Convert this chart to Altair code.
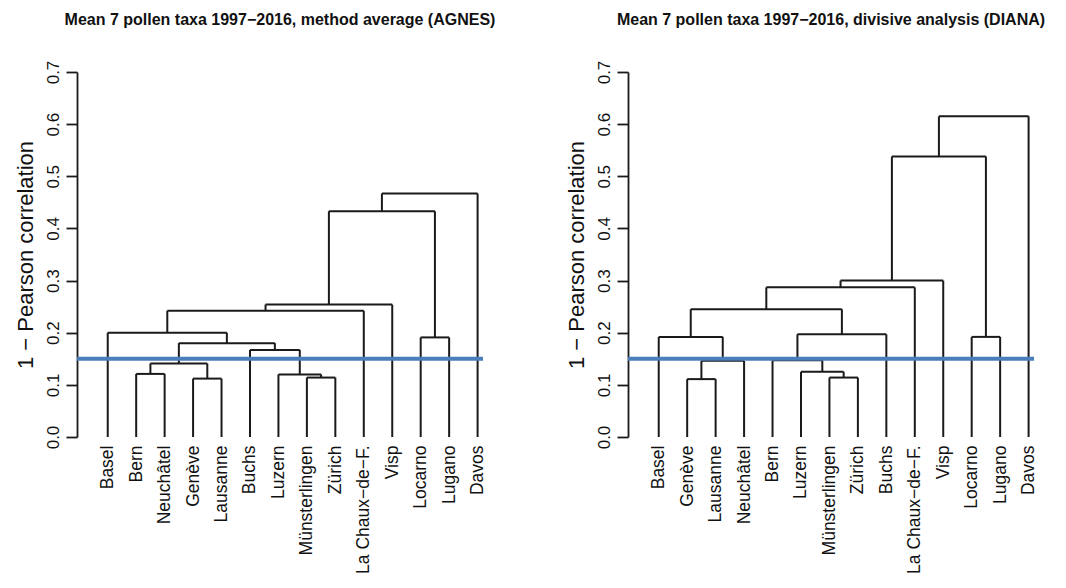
import altair as alt
import pandas as pd

# Leaf order as drawn in each dendrogram
agnes_leaves = ["Basel", "Bern", "Neuchâtel", "Genève", "Lausanne", "Buchs", "Luzern",
                "Münsterlingen", "Zürich", "La Chaux−de−F.", "Visp", "Locarno", "Lugano", "Davos"]
diana_leaves = ["Basel", "Genève", "Lausanne", "Neuchâtel", "Bern", "Luzern", "Münsterlingen",
                "Zürich", "Buchs", "La Chaux−de−F.", "Visp", "Locarno", "Lugano", "Davos"]

# Merge steps (hclust style): negative = leaf position (1-based), positive = earlier merge step
agnes_merge = [(-4, -5), (-8, -9), (-2, -3), (-7, 2), (3, 1), (-6, 4), (5, 6),
               (-1, 7), (-12, -13), (8, -10), (10, -11), (11, 9), (12, -14)]
agnes_height = [0.112, 0.114, 0.121, 0.120, 0.141, 0.167, 0.180,
                0.200, 0.191, 0.242, 0.254, 0.433, 0.467]

diana_merge = [(-2, -3), (-7, -8), (-6, 2), (1, -4), (-5, 3), (-1, 4), (-12, -13),
               (5, -9), (6, 8), (9, -10), (10, -11), (11, 7), (12, -14)]
diana_height = [0.111, 0.114, 0.125, 0.146, 0.147, 0.192, 0.192,
                0.197, 0.245, 0.287, 0.300, 0.538, 0.615]

cut_level = 0.15

FONT = "Liberation Sans"
LINE = "#1a1a1a"
BLUE = "#4a7ebb"
W, H = 406, 365
X_DOMAIN = [-0.08, 14.19]


def segments(merge, height):
    """Turn a merge table into the vertical/horizontal segments of a dendrogram."""
    pos, top, rows = {}, {}, []

    def child(c):
        if c < 0:
            return float(-c), 0.0
        return pos[c], top[c]

    for i, ((a, b), h) in enumerate(zip(merge, height), start=1):
        xa, ya = child(a)
        xb, yb = child(b)
        rows.append(dict(x=xa, x2=xa, y=ya, y2=h))
        rows.append(dict(x=xb, x2=xb, y=yb, y2=h))
        rows.append(dict(x=xa, x2=xb, y=h, y2=h))
        pos[i], top[i] = (xa + xb) / 2, h
    return pd.DataFrame(rows)


def panel(leaves, merge, height, title):
    df = segments(merge, height)
    names = ",".join("'" + n + "'" for n in leaves)
    xs = alt.Scale(domain=X_DOMAIN, nice=False, zero=False)
    ys = alt.Scale(domain=[0, 0.7], nice=False, zero=False)
    x_axis = alt.Axis(values=list(range(1, len(leaves) + 1)),
                      labelExpr="[" + names + "][datum.value - 1]",
                      labelAngle=270, labelAlign="right", labelBaseline="middle",
                      labelPadding=8, labelFontSize=17.5, labelFont=FONT, labelColor="#111",
                      labelOverlap=False, labelFlush=False, labelBound=False,
                      ticks=False, domain=False, grid=False, title=None)
    y_axis = alt.Axis(values=[0, 0.1, 0.2, 0.3, 0.4, 0.5, 0.6, 0.7], format=".1f",
                      labelAngle=270, labelAlign="center", labelBaseline="bottom",
                      labelPadding=4, labelFontSize=17, labelFont=FONT, labelColor="#111",
                      tickSize=11, tickColor=LINE, domainColor=LINE, tickWidth=1.8, domainWidth=1.8,
                      grid=False, title="1 − Pearson correlation", titleFont=FONT,
                      titleFontSize=22, titleFontWeight="normal", titleColor="#111",
                      titlePadding=7)
    tree = alt.Chart(df).mark_rule(color=LINE, strokeWidth=2).encode(
        x=alt.X("x:Q", scale=xs, axis=x_axis),
        x2="x2:Q",
        y=alt.Y("y:Q", scale=ys, axis=y_axis),
        y2="y2:Q",
    )
    cut = alt.Chart(pd.DataFrame({"h": [cut_level]})).mark_rule(
        color=BLUE, strokeWidth=4).encode(y=alt.Y("h:Q", scale=ys))
    return alt.layer(tree, cut).properties(
        width=W, height=H,
        title=alt.TitleParams(title, font=FONT, fontSize=16, fontWeight="bold",
                              color="#111", anchor="middle", offset=32),
    )


left = panel(agnes_leaves, agnes_merge, agnes_height,
             "Mean 7 pollen taxa 1997−2016, method average (AGNES)")
right = panel(diana_leaves, diana_merge, diana_height,
              "Mean 7 pollen taxa 1997−2016, divisive analysis (DIANA)")

chart = alt.hconcat(left, right, spacing=68).properties(
    padding={"left": 13, "top": 12, "right": 5, "bottom": 0},
    background="white",
).configure_view(strokeWidth=0, stroke=None)

chart.save("out.html", embed_options={"renderer": "svg", "actions": False})
